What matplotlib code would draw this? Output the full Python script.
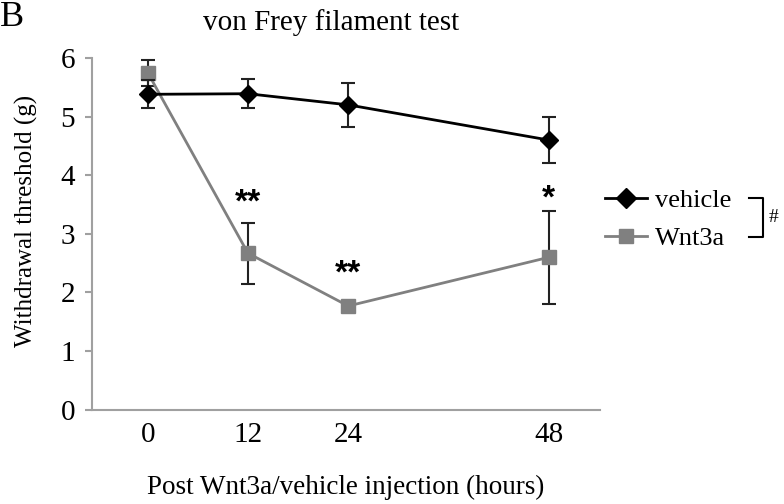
import matplotlib
matplotlib.use("Agg")
import matplotlib.pyplot as plt
from matplotlib.lines import Line2D

plt.rcParams['font.family'] = ['Liberation Serif', 'DejaVu Serif']

# data
hours = [0, 12, 24, 48]
tick_labels = ["0", "12", "24", "48"]
vehicle = [5.38, 5.39, 5.2, 4.6]
vehicle_err = [0.24, 0.25, 0.37, 0.4]
wnt3a = [5.75, 2.67, 1.77, 2.6]
wnt3a_err = [0.22, 0.52, 0.04, 0.79]
stars = ["", "**", "**", "*"]
star_y = [0, 3.52, 2.32, 3.6]

fig = plt.figure(figsize=(7.84, 5.04), dpi=100)
ax = fig.add_axes([0.117, 0.187, 0.648, 0.698])

ax.errorbar(hours, vehicle, yerr=vehicle_err, color='black', marker='D', markersize=9,
            linewidth=2, ecolor='#222222', elinewidth=1.5, capsize=5, capthick=1.5,
            label='vehicle', clip_on=False, zorder=3)
ax.errorbar(hours, wnt3a, yerr=wnt3a_err, color='#808080', marker='s', markersize=10,
            linewidth=2, ecolor='#222222', elinewidth=1.5, capsize=5, capthick=1.5,
            label='Wnt3a', clip_on=False, zorder=2)

# significance marks over the Wnt3a points
for h, y, s in zip(hours, star_y, stars):
    if s:
        ax.text(h, y, s, ha='center', va='center', fontsize=24,
                fontweight='bold', family='Liberation Sans')

ax.set_xlim(-6.7, 54.1)
ax.set_ylim(0, 6)
ax.set_xticks(hours)
ax.set_xticklabels(tick_labels)
ax.set_yticks(range(7))
ax.tick_params(axis='x', length=0, pad=9, labelsize=21)
ax.tick_params(axis='y', length=5, color='#a0a0a0', width=1.5, pad=7, labelsize=21)
for side in ['top', 'right']:
    ax.spines[side].set_visible(False)
for side in ['left', 'bottom']:
    ax.spines[side].set_color('#a0a0a0')
    ax.spines[side].set_linewidth(1.5)

ax.set_title("von Frey filament test", fontsize=21, pad=20, x=0.472)
ax.set_xlabel("Post Wnt3a/vehicle injection (hours)", fontsize=19.5, labelpad=19)
ax.set_ylabel("Withdrawal threshold (g)", fontsize=18)
ax.yaxis.set_label_coords(-0.105, 0.537)

handles = [Line2D([], [], color='black', marker='D', markersize=10, linewidth=2),
           Line2D([], [], color='#808080', marker='s', markersize=10, linewidth=2)]
fig.legend(handles, ['vehicle', 'Wnt3a'], loc='center left', bbox_to_anchor=(0.758, 0.565),
           frameon=False, fontsize=19, handlelength=1.6, handletextpad=0.3,
           labelspacing=0.55, borderaxespad=0)

# bracket with "#"
fig.add_artist(Line2D([0.955, 0.973, 0.973, 0.955], [0.607, 0.607, 0.530, 0.530],
                      color='black', linewidth=1.5))
fig.text(0.981, 0.568, "#", fontsize=14, va='center', ha='left')

fig.text(0.0, 0.998, "B", fontsize=26, va='top', ha='left')

fig.savefig("out.png", dpi=100)
